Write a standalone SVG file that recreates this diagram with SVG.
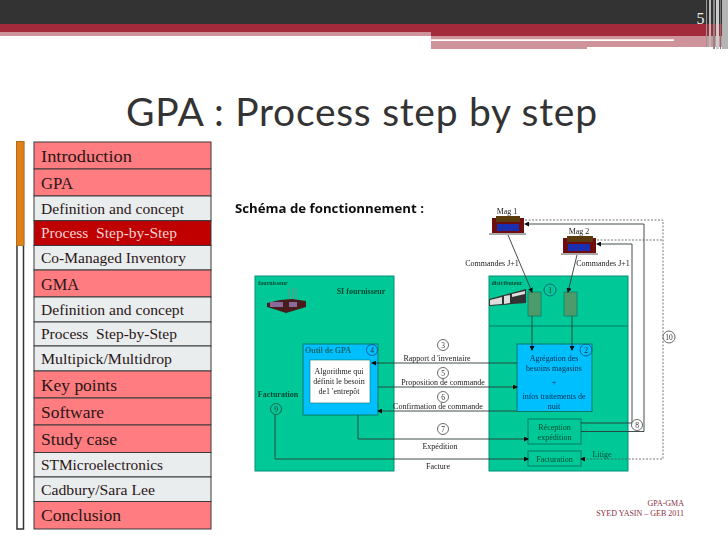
<svg xmlns="http://www.w3.org/2000/svg" width="728" height="546" viewBox="0 0 728 546">
<defs>
<style>
.m{font-family:"Liberation Serif",serif;fill:#2b1616}
.big{font-size:17px}.sm{font-size:14px}
.row{stroke:#3a3a3a;stroke-width:1}
.p{fill:#ff7c80}.g{fill:#e9edee}
.t{font-family:"Liberation Serif",serif;font-size:8px;fill:#222;text-anchor:middle}
.tb{font-family:"Liberation Serif",serif;font-size:8px;fill:#06304f;text-anchor:middle}
.tg{font-family:"Liberation Serif",serif;font-size:8px;fill:#064a36;text-anchor:middle}
.c{fill:#fff;stroke:#444;stroke-width:.8}
.cb{fill:none;stroke:#0a4f78;stroke-width:.8}
.cn{font-family:"Liberation Serif",serif;font-size:7.5px;fill:#333;text-anchor:middle}
.l{fill:none;stroke:#2c3a38;stroke-width:.9}
.d{fill:none;stroke:#555;stroke-width:.8;stroke-dasharray:2 1.5}
.box{stroke:#0a7a68;stroke-width:1}
</style>
<marker id="a" markerWidth="5" markerHeight="5" refX="4" refY="2.5" orient="auto" markerUnits="userSpaceOnUse"><path d="M0 0L5 2.5L0 5z" fill="#111"/></marker>
<filter id="b" x="-5%" y="-5%" width="110%" height="110%"><feGaussianBlur stdDeviation="0.35"/></filter>
</defs>
<rect width="728" height="546" fill="#fff"/>
<g id="banner">
<rect width="728" height="24" fill="#333"/>
<rect y="24" width="728" height="8" fill="#a32a3a"/>
<rect y="32" width="431" height="4" fill="#cf939b"/>
<rect x="431" y="32" width="297" height="4" fill="#a32a3a"/>
<rect x="431" y="36" width="297" height="3.500" fill="#cf939b"/>
<rect x="431" y="39.500" width="243" height="1.500" fill="#fff"/>
<rect x="431" y="41" width="156" height="8" fill="#cf939b"/>
<rect x="587" y="41" width="128" height="6" fill="#cf939b"/>
<rect x="674" y="39" width="54" height="8" fill="#cf939b"/>
<rect x="706" y="0" width="1" height="47" fill="#999"/>
<rect x="709" y="0" width="2" height="47" fill="#bbb"/>
<rect x="713" y="0" width="2" height="49" fill="#888"/>
<rect x="716" y="0" width="3" height="49" fill="#ccc"/>
<rect x="720" y="0" width="1" height="49" fill="#777"/>
<rect x="722" y="0" width="6" height="49" fill="#b5b5b5"/>
<text x="700.500" y="24" font-family="Liberation Serif, serif" font-size="16" fill="#eee" text-anchor="middle">5</text>
</g>
<text id="title" x="126" y="126" font-family="Lato, sans-serif" font-size="39" fill="#333" textLength="471" lengthAdjust="spacing">GPA : Process step by step</text>
<g id="scrollbar">
<rect x="17" y="142" width="6.500" height="387" fill="#fff" stroke="#333" stroke-width="1.500"/>
<rect x="16.500" y="141.500" width="7.500" height="104" fill="#e0801a" stroke="#b86a10" stroke-width=".8"/>
</g>
<g id="menu">
<g id="m1"><rect class="row p" x="34" y="142" width="177" height="27"/><text class="m big" x="41" y="162" textLength="91" lengthAdjust="spacingAndGlyphs">Introduction</text></g>
<g id="m2"><rect class="row p" x="34" y="169" width="177" height="27"/><text class="m big" x="41" y="189" textLength="32" lengthAdjust="spacingAndGlyphs">GPA</text></g>
<g id="m3"><rect class="row g" x="34" y="196" width="177" height="24.700"/><text class="m sm" x="41" y="214" textLength="143" lengthAdjust="spacingAndGlyphs">Definition and concept</text></g>
<g id="m4"><rect class="row" fill="#c00000" x="34" y="220.700" width="177" height="24.800"/><text class="m sm" style="fill:#f5d5d5" x="41" y="238" textLength="136" lengthAdjust="spacingAndGlyphs" xml:space="preserve">Process  Step-by-Step</text></g>
<g id="m5"><rect class="row g" x="34" y="245.500" width="177" height="24.500"/><text class="m sm" x="41" y="263" textLength="145" lengthAdjust="spacingAndGlyphs">Co-Managed Inventory</text></g>
<g id="m6"><rect class="row p" x="34" y="270" width="177" height="27"/><text class="m big" x="41" y="290" textLength="38" lengthAdjust="spacingAndGlyphs">GMA</text></g>
<g id="m7"><rect class="row g" x="34" y="297" width="177" height="25"/><text class="m sm" x="41" y="315" textLength="143" lengthAdjust="spacingAndGlyphs">Definition and concept</text></g>
<g id="m8"><rect class="row g" x="34" y="322" width="177" height="24"/><text class="m sm" x="41" y="339" textLength="136" lengthAdjust="spacingAndGlyphs" xml:space="preserve">Process  Step-by-Step</text></g>
<g id="m9"><rect class="row g" x="34" y="346" width="177" height="25"/><text class="m sm" x="41" y="364" textLength="131" lengthAdjust="spacingAndGlyphs">Multipick/Multidrop</text></g>
<g id="m10"><rect class="row p" x="34" y="371" width="177" height="27"/><text class="m big" x="41" y="391" textLength="76" lengthAdjust="spacingAndGlyphs">Key points</text></g>
<g id="m11"><rect class="row p" x="34" y="398" width="177" height="27"/><text class="m big" x="41" y="418" textLength="63" lengthAdjust="spacingAndGlyphs">Software</text></g>
<g id="m12"><rect class="row p" x="34" y="425" width="177" height="27.500"/><text class="m big" x="41" y="445" textLength="76" lengthAdjust="spacingAndGlyphs">Study case</text></g>
<g id="m13"><rect class="row g" x="34" y="452.500" width="177" height="24.500"/><text class="m sm" x="41" y="470" textLength="122" lengthAdjust="spacingAndGlyphs">STMicroelectronics</text></g>
<g id="m14"><rect class="row g" x="34" y="477" width="177" height="24.500"/><text class="m sm" x="41" y="495" textLength="114" lengthAdjust="spacingAndGlyphs">Cadbury/Sara Lee</text></g>
<g id="m15"><rect class="row p" x="34" y="501.500" width="177" height="27.500"/><text class="m big" x="41" y="521" textLength="80" lengthAdjust="spacingAndGlyphs">Conclusion</text></g>
</g>
<g id="diagram" filter="url(#b)">
<text id="heading" x="235" y="213" font-family="Open Sans, sans-serif" font-weight="700" font-size="12.500" fill="#111" textLength="189" lengthAdjust="spacingAndGlyphs">Schéma de fonctionnement :</text>
<g id="supplier">
<rect x="255" y="276" width="139" height="195" fill="#00c896" stroke="#0a8f78"/>
<text x="273" y="285" class="tg" style="font-size:6px;font-weight:700">fournisseur</text>
<text x="361" y="294" class="tg" style="font-weight:700">SI fournisseur</text>
<path d="M289 288v14M293 288v14M296 288v14" stroke="#888" stroke-width=".8"/>
<path d="M267 303l13-3 12-1 14 2v6l-10 3-10 3-9-3-10-3z" fill="#4a1a1a"/>
<path d="M270 302h13v5h-13zM289 302h8v5h-8z" fill="#8a6a9a"/>
<text x="278" y="397" class="tg" style="font-weight:700">Facturation</text>
</g>
<g id="distributor">
<rect x="489" y="276" width="139" height="195" fill="#00c896" stroke="#0a8f78"/>
<line x1="489" y1="326" x2="628" y2="326" stroke="#0a7a68"/>
<text x="507" y="285" class="tg" style="font-size:6px;font-weight:700">distributeur</text>
<path d="M489 299l37-10v14l-37 3z" fill="#333"/>
<path d="M490 300l12-3v7l-12 1zM504 296l6-1v8l-6 1zM512 294l13-3v3l-13 3z" fill="#ddd"/>
</g>
<g id="outil">
<rect class="box" x="303" y="344" width="75" height="71" fill="#00bfff"/>
<text x="328" y="353" class="tg" style="fill:#0a6a6a;font-weight:700">Outil de GPA</text>
<rect x="310" y="360" width="60" height="43" fill="#fff" stroke="#0a7a68" stroke-width=".6"/>
<text class="t" x="339" y="374">Algorithme qui</text>
<text class="t" x="339" y="384">définit le besoin</text>
<text class="t" x="339" y="394">de1 'entrepôt</text>
</g>
<g id="agregation">
<rect class="box" x="517" y="344" width="75" height="67.500" fill="#00bfff"/>
<text class="tb" x="554" y="361">Agrégation des</text>
<text class="tb" x="554" y="371">besoins magasins</text>
<text class="tb" x="554" y="385">+</text>
<text class="tb" x="554" y="399">infos traitements de</text>
<text class="tb" x="554" y="409">nuit</text>
</g>
<g id="stock1"><rect x="528" y="292" width="13" height="24" fill="#4e9b6a" stroke="#0a7a68" stroke-width=".7"/></g>
<g id="stock2"><rect x="564" y="292" width="13" height="24" fill="#4e9b6a" stroke="#0a7a68" stroke-width=".7"/></g>
<g id="reception">
<rect class="box" x="528" y="419" width="53" height="25" fill="#00c896"/>
<text class="tg" x="554.500" y="430">Réception</text>
<text class="tg" x="554.500" y="440">expédition</text>
</g>
<g id="facturation">
<rect class="box" x="528" y="451" width="53" height="15" fill="#00c896"/>
<text class="tg" x="554.500" y="462">Facturation</text>
</g>
<g id="mag1">
<text class="t" x="507" y="214">Mag 1</text>
<rect x="492" y="218" width="32" height="15" fill="#6e0f0f"/>
<rect x="496" y="216" width="24" height="6" fill="#5a3a10"/>
<rect x="497" y="224" width="22" height="7" fill="#1a2fb0"/>
<rect x="489" y="233" width="37" height="2" fill="#aaa"/>
</g>
<g id="mag2">
<text class="t" x="579" y="234">Mag 2</text>
<rect x="563" y="238" width="33" height="15" fill="#6e0f0f"/>
<rect x="567" y="236" width="26" height="6" fill="#5a3a10"/>
<rect x="568" y="244" width="22" height="7" fill="#1a2fb0"/>
<rect x="561" y="253" width="37" height="2" fill="#aaa"/>
</g>
<g id="connectors">
<path class="l" d="M508 235L532 292" marker-end="url(#a)"/>
<path class="l" d="M577 255L568 292" marker-end="url(#a)"/>
<path class="l" d="M532 316V350" marker-end="url(#a)"/>
<path class="l" d="M572 316V350" marker-end="url(#a)"/>
<path class="l" d="M517 363H372" marker-end="url(#a)"/>
<path class="l" d="M378 387H517" marker-end="url(#a)"/>
<path class="l" d="M517 411H378" marker-end="url(#a)"/>
<path class="l" d="M358 415V439H528" marker-end="url(#a)"/>
<path class="l" d="M275 415V459H528" marker-end="url(#a)"/>
<path class="l" d="M581 423H632V244H597" marker-end="url(#a)"/>
<path class="l" d="M581 431.500H644V224H525" marker-end="url(#a)"/>
<path class="d" d="M525 220H663V459H581" marker-end="url(#a)"/>
<path class="d" d="M597 240H663"/>
</g>
<g id="labels">
<text class="t" x="492" y="266">Commandes J+1</text>
<text class="t" x="603" y="266">Commandes J+1</text>
<text class="t" x="437" y="361">Rapport d 'inventaire</text>
<text class="t" x="443" y="385">Proposition de commande</text>
<text class="t" x="438" y="409">Confirmation de commande</text>
<text class="t" x="440" y="449">Expédition</text>
<text class="t" x="438" y="469">Facture</text>
<text class="tg" x="602" y="457">Litige</text>
</g>
<g id="markers">
<g id="n1"><circle class="cb" cx="550" cy="290" r="6"/><text class="cn" x="550" y="293">1</text></g>
<g id="n2"><circle class="cb" cx="586" cy="350" r="6"/><text class="cn" x="586" y="353">2</text></g>
<g id="n3"><circle class="c" cx="443" cy="345" r="5.500"/><text class="cn" x="443" y="348">3</text></g>
<g id="n4"><circle class="cb" cx="372" cy="350" r="5.500"/><text class="cn" x="372" y="353">4</text></g>
<g id="n5"><circle class="c" cx="443" cy="373" r="5.500"/><text class="cn" x="443" y="376">5</text></g>
<g id="n6"><circle class="c" cx="443" cy="397" r="5.500"/><text class="cn" x="443" y="400">6</text></g>
<g id="n7"><circle class="c" cx="443" cy="429" r="5.500"/><text class="cn" x="443" y="432">7</text></g>
<g id="n8"><circle class="c" cx="637" cy="425" r="5.500"/><text class="cn" x="637" y="428">8</text></g>
<g id="n9"><circle class="cb" cx="276" cy="409" r="5.500" style="stroke:#0a4f40"/><text class="cn" x="276" y="412">9</text></g>
<g id="n10"><circle class="c" cx="669" cy="337" r="6"/><text class="cn" x="669" y="340">10</text></g>
</g>
</g>
<g id="footer" font-family="Liberation Serif, serif" font-size="8" fill="#8a3040" text-anchor="end">
<text x="684" y="506">GPA-GMA</text>
<text x="684" y="516">SYED YASIN – GEB 2011</text>
</g>
</svg>
